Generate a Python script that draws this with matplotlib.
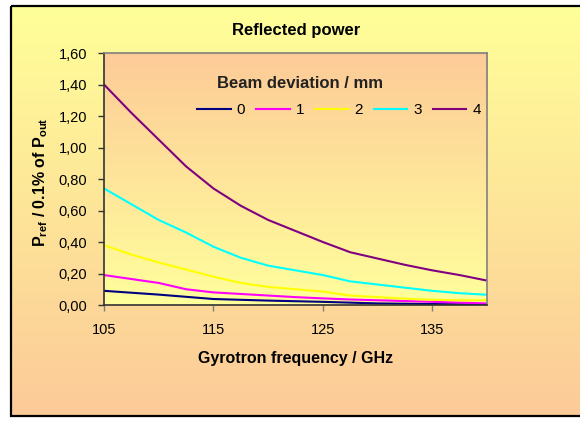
import numpy as np
import matplotlib

matplotlib.use("Agg")
import matplotlib.pyplot as plt
from matplotlib.colors import LinearSegmentedColormap
from matplotlib.patches import Rectangle

plt.rcParams["font.family"] = ["Liberation Sans", "DejaVu Sans"]
plt.rcParams["mathtext.fontset"] = "custom"
plt.rcParams["mathtext.rm"] = "Liberation Sans"
plt.rcParams["mathtext.bf"] = "Liberation Sans:bold"

# data
freq = [105, 107.5, 110, 112.5, 115, 117.5, 120, 122.5, 125, 127.5, 130, 132.5, 135, 137.5, 140]
dev_0 = [0.09, 0.078, 0.066, 0.052, 0.038, 0.033, 0.028, 0.024, 0.02, 0.015, 0.01, 0.008, 0.006, 0.005, 0.004]
dev_1 = [0.19, 0.165, 0.14, 0.10, 0.08, 0.07, 0.06, 0.05, 0.042, 0.035, 0.03, 0.025, 0.02, 0.015, 0.01]
dev_2 = [0.38, 0.32, 0.27, 0.225, 0.18, 0.14, 0.115, 0.10, 0.085, 0.06, 0.05, 0.04, 0.033, 0.03, 0.03]
dev_3 = [0.74, 0.64, 0.54, 0.46, 0.37, 0.30, 0.25, 0.22, 0.19, 0.15, 0.13, 0.11, 0.09, 0.075, 0.065]
dev_4 = [1.40, 1.22, 1.05, 0.88, 0.74, 0.63, 0.54, 0.47, 0.40, 0.335, 0.295, 0.255, 0.22, 0.19, 0.155]
labels = ["0", "1", "2", "3", "4"]
colors = ["#000080", "#FF00FF", "#FFFF00", "#00FFFF", "#800080"]
y_ticks = [0, 0.2, 0.4, 0.6, 0.8, 1.0, 1.2, 1.4, 1.6]
x_ticks = [105, 115, 125, 135]

W, H = 580, 423
fig = plt.figure(figsize=(W / 100, H / 100), dpi=100)
fig.patch.set_facecolor("white")

grad = np.linspace(0, 1, 256).reshape(-1, 1)
yellow_tan = LinearSegmentedColormap.from_list("yt", ["#FFFF99", "#FCCA98"])
tan_yellow = LinearSegmentedColormap.from_list("ty", ["#FDCB98", "#FFFF9C"])

# outer chart box with gradient
bg = fig.add_axes([0, 0, 1, 1], zorder=-2)
bg.set_xlim(0, W)
bg.set_ylim(H, 0)
bg.axis("off")
bg.imshow(grad, cmap=yellow_tan, extent=[11, W + 10, 416, 6], aspect="auto")
bg.add_patch(Rectangle((11, 6), W, 410, fill=False, edgecolor="black", linewidth=1.6))

# plot area
left, right, top, bottom = 104, 487, 53, 305
ax = fig.add_axes([left / W, 1 - bottom / H, (right - left) / W, (bottom - top) / H])
ax.imshow(grad, cmap=tan_yellow, extent=[0, 1, 0, 1], transform=ax.transAxes,
          aspect="auto", zorder=0)

series = [dev_0, dev_1, dev_2, dev_3, dev_4]
for vals, lab, col in zip(series, labels, colors):
    ax.plot(freq, vals, color=col, linewidth=1.5, label=lab, zorder=2)

ax.set_xlim(105, 140)
ax.set_ylim(0, 1.6)
ax.set_xticks(x_ticks)
ax.set_yticks(y_ticks)
ax.set_yticklabels([f"{v:.2f}".replace(".", ",") for v in y_ticks])
ax.tick_params(axis="y", direction="out", length=4, width=1, pad=8, labelsize=10.5, color="#333333")
ax.tick_params(axis="x", direction="out", length=4, width=1, pad=9, labelsize=10.5, color="#808080")
for side in ["top", "right"]:
    ax.spines[side].set_color("#808080")
    ax.spines[side].set_linewidth(1.2)
for side in ["left", "bottom"]:
    ax.spines[side].set_color("#333333")
    ax.spines[side].set_linewidth(1.2)

ax.set_xlabel("Gyrotron frequency / GHz", fontsize=11.5, fontweight="bold", labelpad=10)

fig.text(41 / W, 1 - 182 / H,
         r"$\mathbf{P}_{\mathbf{ref}}$ / 0.1% of $\mathbf{P}_{\mathbf{out}}$",
         rotation=90, ha="center", va="center", fontsize=11.5, fontweight="bold")

fig.text(296 / W, 1 - 30 / H, "Reflected power", ha="center", va="center",
         fontsize=12, fontweight="bold")
fig.text(300 / W, 1 - 83 / H, "Beam deviation / mm", ha="center", va="center",
         fontsize=12, fontweight="bold", color="#222222")

ax.legend(loc="center", bbox_to_anchor=((339 - left) / (right - left), (bottom - 110) / (bottom - top)),
          ncol=5, frameon=False, fontsize=11, handlelength=2.2, handletextpad=0.4,
          columnspacing=0.7, borderpad=0, borderaxespad=0)

fig.savefig("out.png", dpi=100)
